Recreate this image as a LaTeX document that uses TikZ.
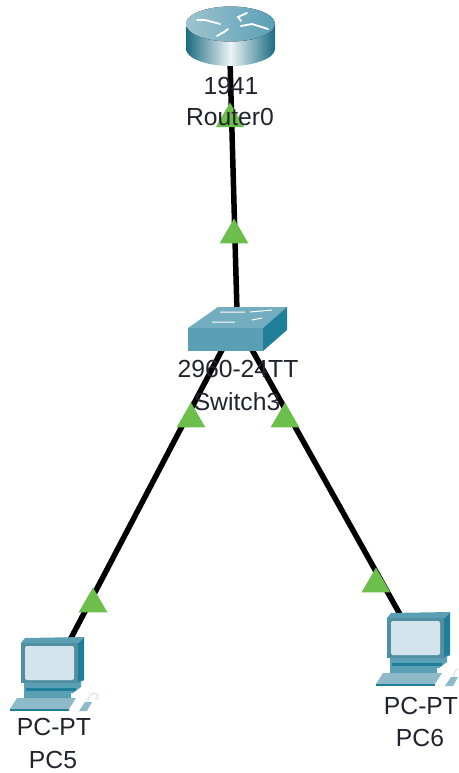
\documentclass[tikz,border=0pt]{standalone}
\usepackage{fontspec}
\setmainfont{Liberation Sans}
\usetikzlibrary{shapes.geometric}
\definecolor{txt}{HTML}{23232F}
\definecolor{linkgreen}{HTML}{6CBF4B}
\definecolor{tealA}{HTML}{5B9FB5}
\definecolor{tealB}{HTML}{1F7F98}
\definecolor{tealC}{HTML}{8DB9C8}
\definecolor{screenc}{HTML}{D3E4EC}
\tikzset{
  lbl/.style={font=\fontsize{24.7}{24.7}\selectfont,text=txt,inner sep=0pt,anchor=center},
  linkline/.style={line width=5.5pt,black},
  tri/.style={regular polygon,regular polygon sides=3,minimum size=33pt,inner sep=0pt,fill=linkgreen},
  glyph/.style={draw=white,line width=1.8pt,line cap=round},
  pics/pcicon/.style={code={
    \fill[tealB] (57,0) -- (63,-6) -- (63,37) -- (57,40) -- cycle;
    \fill[tealA] (0,0) -- (4,-5) -- (63,-6) -- (57,0) -- cycle;
    \fill[tealA!90!black] (0,0) rectangle (57,40);
    \fill[screenc,rounded corners=2pt] (4,3) rectangle (53,37);
    \fill[tealA] (3,40) -- (57,40) -- (60,37) -- (60,44) -- (52,50) -- (3,50) -- cycle;
    \fill[tealB] (5,45) -- (55,45) -- (55,48) -- (5,48) -- cycle;
    \fill[tealA] (3,50) -- (50,50) -- (50,56) -- (3,56) -- cycle;
    \fill[tealC] (-4,55) -- (55,55) -- (48,66) -- (-11,66) -- cycle;
    \fill[tealB] (-11,66) -- (48,66) -- (48,68) -- (-11,68) -- cycle;
    \fill[tealC] (64,59) -- (71,59) -- (66,68) -- (58,68) -- cycle;
    \draw[tealC!40,line width=1pt] (67,59) .. controls (66,52) and (72,49) .. (76,51) .. controls (78,53) and (77,56) .. (74,56);
  }}
}
\begin{document}
\begin{tikzpicture}[x=1pt,y=-1pt]
\useasboundingbox (0,0) rectangle (458,773);
\clip (0,0) rectangle (458,773);
\fill[white] (0,0) rectangle (458,773);
\coordinate (routerport) at (230,60);
\coordinate (swtop) at (237,312);
\coordinate (swleft) at (223,348);
\coordinate (swright) at (251,348);
\coordinate (pcfive) at (70,640);
\coordinate (pcsix) at (402,618);
\draw[linkline] (routerport) -- (swtop);
\draw[linkline] (swleft) -- (pcfive);
\draw[linkline] (swright) -- (pcsix);
\node[tri] (t1) at (230,119) {};
\node[tri] (t2) at (234,235) {};
\node[tri] (t3) at (191,419) {};
\node[tri] (t4) at (285,419) {};
\node[tri] (t5) at (93,604) {};
\node[tri] (t6) at (376,584) {};
% router
\path[left color=tealB!85!black,right color=tealB!85!black,middle color=white!88!tealA]
  (186,24) -- (186,49) .. controls (186,58) and (206,66) .. (230.5,66) .. controls (255,66) and (275,58) .. (275,49) -- (275,24) -- cycle;
\fill[left color=tealC!85!white,right color=tealA] (230.5,24) ellipse[x radius=44.5,y radius=17.5];
\draw[glyph] (197,20) -- (205,20) -- (220,24);
\draw[glyph] (241,21) -- (238,17) -- (247,13);
\draw[glyph] (241,26) -- (252,24) -- (268,29);
\draw[glyph] (217,36) -- (224,32) -- (228,29);
% switch
\fill[tealA!85!white] (188,328) -- (218,307) -- (287,307) -- (263,328) -- cycle;
\fill[tealA] (188,328) rectangle (263,351);
\fill[tealB] (263,328) -- (287,307) -- (287,330) -- (263,351) -- cycle;
\draw[white,line width=1pt] (220,312) -- (245,312) (250,312) -- (272,310);
\draw[white,line width=1pt] (212,322) -- (235,322) (252,320) -- (262,318);
\pic at (21,643) {pcicon};
\pic at (387,618) {pcicon};
\node[lbl] (l1941) at (231,86) {1941};
\node[lbl] (lrouter) at (230,117) {Router0};
\node[lbl] (lsw) at (238,369) {2960-24TT};
\node[lbl] (lswn) at (237,402) {Switch3};
\node[lbl] (lpc1) at (54,727) {PC-PT};
\node[lbl] (lpc5) at (53,760) {PC5};
\node[lbl] (lpc2) at (421,706) {PC-PT};
\node[lbl] (lpc6) at (420,738) {PC6};
\end{tikzpicture}
\end{document}
